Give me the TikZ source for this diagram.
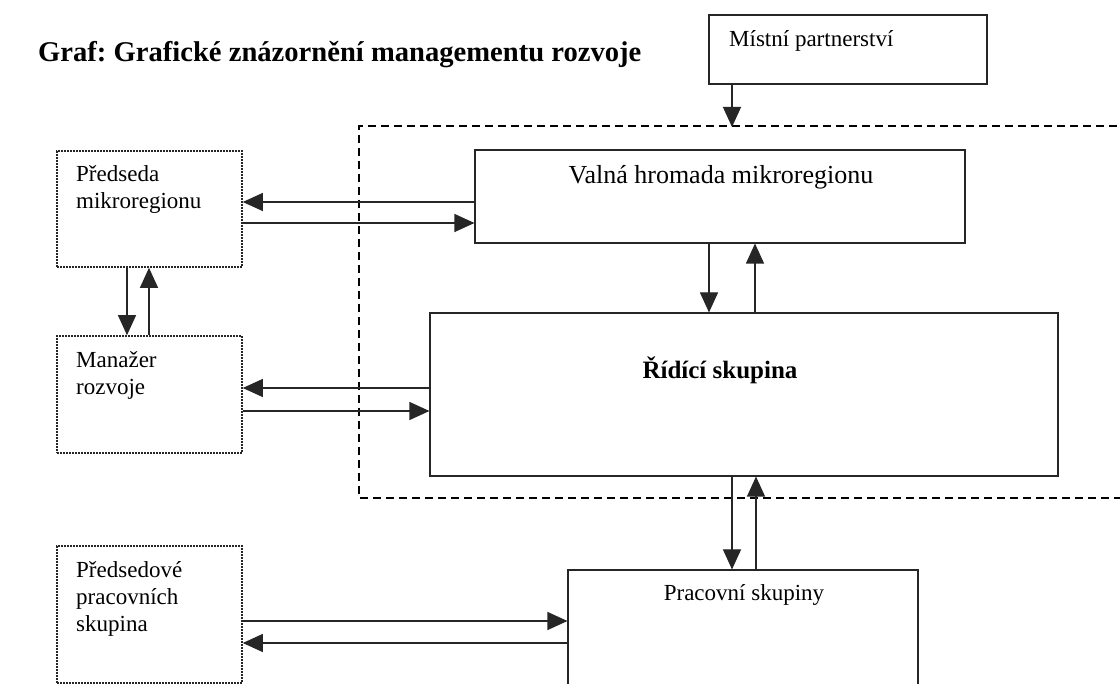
\documentclass[tikz,border=0pt]{standalone}
\usepackage{fontspec}
\setmainfont{Liberation Serif}
\usetikzlibrary{arrows.meta}
\begin{document}
\begin{tikzpicture}[x=1pt,y=-1pt,
  box/.style={draw=black!85, line width=1.1pt, inner sep=0pt},
  dotbox/.style={draw=black!85, line width=1.6pt, dash pattern=on 2pt off 1pt, inner sep=0pt},
  region/.style={draw=black, line width=1.2pt, dash pattern=on 8pt off 5pt},
  arr/.style={draw=black!85, line width=1.1pt, -{Triangle[length=20pt,width=18pt]}},
  txt/.style={inner sep=0pt, font=\fontsize{23}{27}\selectfont, align=left},
  bigtxt/.style={inner sep=0pt, font=\fontsize{26}{30}\selectfont},
  ttl/.style={inner sep=0pt, font=\bfseries\fontsize{28.6}{34}\selectfont}]
\useasboundingbox (0,0) rectangle (1120,684);
\fill[white] (0,0) rectangle (1120,684);
\clip (0,0) rectangle (1120,684);
% dashed region
\coordinate (dtl) at (359,126);
\coordinate (dbl) at (359,498);
\coordinate (dtr) at (1130,126);
\coordinate (dbr) at (1130,498);
\draw[region] (dtr) -- (dtl) -- (dbl) -- (dbr);
% boxes
\node[box, minimum width=278, minimum height=69] (mistni) at (848,49.5) {};
\node[box, minimum width=490, minimum height=93] (valna) at (720,196.5) {};
\node[box, minimum width=628, minimum height=163] (ridici) at (744,394.5) {};
\node[box, minimum width=350, minimum height=150] (prac) at (743,645) {};
\node[dotbox, minimum width=185, minimum height=116] (pred) at (149.5,209) {};
\node[dotbox, minimum width=185, minimum height=117] (man) at (149.5,394.5) {};
\node[dotbox, minimum width=185, minimum height=137] (predse) at (149.5,614.5) {};
% texts
\node[ttl, anchor=base west] (title) at (38,62) {\frenchspacing Graf: Grafické znázornění managementu rozvoje};
\node[txt, anchor=base west] (tmistni) at (729,47) {Místní partnerství};
\node[bigtxt, anchor=base] (tvalna) at (721,184) {Valná hromada mikroregionu};
\node[bigtxt, anchor=base, font=\bfseries\fontsize{25}{30}\selectfont] (tridici) at (720,379) {Řídící skupina};
\node[txt, anchor=base] (tprac) at (744,600) {Pracovní skupiny};
\node[txt, anchor=base west] (tpred) at (76,209) {Předseda\\mikroregionu};
\node[txt, anchor=base west] (tman) at (76,395) {Manažer\\rozvoje};
\node[txt, anchor=base west] (tpredse) at (76,631) {Předsedové\\pracovních\\skupina};
% connectors
\coordinate (dtop) at (732,127);
\draw[arr] (mistni.south -| 732,0) -- (dtop);
\draw[arr] (valna.west |- 0,202) -- (pred.east |- 0,202);
\draw[arr] (pred.east |- 0,223) -- (valna.west |- 0,223);
\draw[arr] (valna.south -| 709,0) -- (ridici.north -| 709,0);
\draw[arr] (ridici.north -| 755,0) -- (valna.south -| 755,0);
\draw[arr] (pred.south -| 127,0) -- (man.north -| 127,0);
\draw[arr] (man.north -| 149,0) -- (pred.south -| 149,0);
\draw[arr] (ridici.west |- 0,388) -- (man.east |- 0,388);
\draw[arr] (man.east |- 0,411) -- (ridici.west |- 0,411);
\draw[arr] (ridici.south -| 732,0) -- (prac.north -| 732,0);
\draw[arr] (prac.north -| 756,0) -- (ridici.south -| 756,0);
\draw[arr] (predse.east |- 0,621) -- (prac.west |- 0,621);
\draw[arr] (prac.west |- 0,643) -- (predse.east |- 0,643);
\end{tikzpicture}
\end{document}
